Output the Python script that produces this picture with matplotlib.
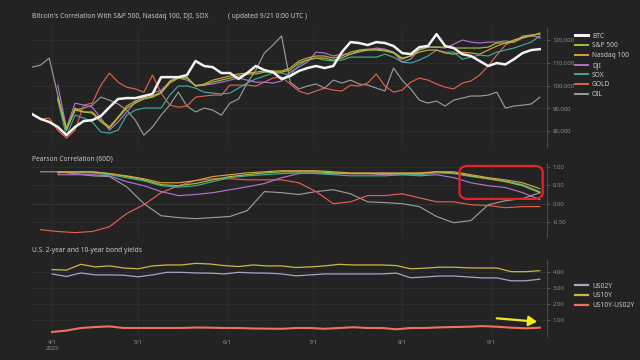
import matplotlib
matplotlib.use("Agg")
import matplotlib.pyplot as plt
import matplotlib.dates as mdates
import matplotlib.ticker as mticker
from matplotlib.patches import FancyBboxPatch
import numpy as np
import pandas as pd

nan = np.nan

# price panel: every 3 days, 3/25 .. 9/18 (BTC scale, thousands USD)
price_dates = pd.date_range("2025-03-25", periods=60, freq="3D")
btc = [87.5, 85.3, 84.0, 81.8, 78.2, 81.8, 84.4, 84.8, 86.6, 90.5,
       94.1, 94.5, 94.5, 95.4, 96.3, 103.7, 103.7, 103.7, 104.6, 110.8,
       108.6, 108.1, 105.5, 105.5, 102.9, 105.5, 108.6, 106.8, 105.9, 102.9,
       104.2, 106.4, 107.7, 108.6, 107.7, 108.6, 114.7, 119.1, 118.7, 117.8,
       119.1, 118.7, 117.4, 114.3, 113.8, 116.9, 117.4, 122.6, 117.4, 116.5,
       113.8, 113.0, 110.8, 108.6, 109.9, 109.3, 111.6, 114.3, 115.6, 116.0]
sp500 = [nan, nan, nan, 94.9, 80.4, 90.1, 88.4, 87.9, 84.0, 81.3,
         85.7, 90.1, 92.3, 94.1, 94.9, 96.7, 101.1, 103.3, 103.3, 99.8,
         100.2, 101.5, 102.4, 103.3, 104.2, 105.1, 105.1, 105.9, 105.9, 105.9,
         106.8, 109.9, 111.2, 112.1, 112.1, 111.2, 112.1, 113.8, 115.2, 115.6,
         115.6, 115.2, 114.3, 111.6, 113.0, 115.6, 116.9, 116.9, 116.9, 116.5,
         116.5, 116.5, 116.5, 116.9, 118.7, 118.7, 120.0, 121.3, 121.8, 123.1]
nasdaq100 = [nan, nan, nan, 94.1, 81.3, 89.2, 88.4, 88.4, 84.8, 81.8,
             86.2, 91.0, 93.2, 94.5, 95.4, 97.1, 102.0, 103.7, 103.7, 99.8,
             100.7, 102.4, 103.3, 104.2, 105.1, 105.5, 105.9, 106.4, 106.4, 106.4,
             107.7, 110.8, 112.1, 113.0, 113.0, 112.1, 113.0, 114.7, 115.6, 116.0,
             116.0, 115.6, 114.7, 112.1, 113.0, 114.7, 115.6, 115.6, 114.3, 113.8,
             114.7, 114.3, 113.8, 115.6, 117.4, 118.7, 119.1, 120.9, 122.2, 122.6]
dji = [nan, nan, nan, 100.2, 81.3, 92.3, 91.4, 90.5, 85.7, 80.4,
       84.0, 88.4, 92.7, 95.4, 96.7, 98.0, 101.5, 103.3, 102.4, 100.2,
       100.2, 100.7, 101.5, 102.4, 103.3, 102.4, 101.5, 101.5, 101.1, 102.0,
       105.9, 108.1, 110.3, 114.7, 114.3, 113.0, 113.8, 113.8, 114.7, 115.6,
       116.5, 116.0, 114.7, 110.3, 111.6, 116.0, 116.9, 116.9, 116.5, 118.2,
       120.0, 119.1, 118.7, 119.1, 119.1, 119.6, 119.1, 121.8, 122.2, 120.9]
sox = [nan, nan, nan, 93.6, 77.8, 87.0, 85.7, 84.0, 79.6, 79.1,
       80.4, 87.0, 89.2, 90.1, 90.1, 90.1, 95.8, 99.8, 99.8, 98.9,
       97.1, 96.7, 96.3, 96.7, 98.9, 101.1, 102.9, 104.2, 105.5, 105.5,
       104.6, 109.0, 111.2, 112.1, 111.2, 110.8, 111.2, 112.5, 112.5, 112.5,
       112.5, 113.8, 112.5, 110.3, 109.9, 111.2, 113.0, 115.6, 114.7, 114.7,
       111.6, 112.5, 113.4, 113.0, 114.7, 115.6, 116.5, 117.8, 119.1, 121.8]
gold = [nan, 85.3, 85.7, 80.4, 76.9, 80.4, 91.4, 92.3, 100.2, 105.5,
        101.5, 99.3, 98.5, 97.1, 104.6, 96.7, 91.4, 90.5, 91.0, 94.9,
        95.4, 95.8, 95.8, 100.2, 100.2, 100.2, 99.8, 101.5, 103.3, 103.7,
        100.7, 97.6, 96.3, 97.6, 98.9, 98.0, 97.6, 100.2, 99.8, 101.1,
        105.1, 99.8, 97.1, 98.0, 101.5, 103.3, 102.4, 100.7, 99.3, 98.5,
        101.1, 102.0, 104.6, 108.6, 113.4, 117.8, 120.0, 120.9, 121.8, 121.3]
oil = [108.1, 109.0, 112.1, 95.8, 80.4, 89.2, 90.1, 91.4, 94.9, 93.6,
       91.9, 89.2, 84.8, 78.2, 81.8, 87.0, 91.4, 97.1, 91.0, 88.4,
       90.1, 89.2, 87.0, 92.3, 94.1, 101.1, 106.8, 114.3, 117.8, 121.8,
       101.5, 98.5, 99.8, 100.7, 98.9, 102.4, 101.1, 102.4, 100.7, 100.2,
       98.9, 97.6, 107.7, 102.4, 98.5, 93.6, 92.3, 93.2, 91.0, 93.6,
       94.5, 95.4, 95.4, 95.8, 97.1, 90.1, 91.0, 91.4, 91.9, 94.9]

# 60-day Pearson correlation: every 6 days, 3/28 .. 9/18
corr_dates = pd.date_range("2025-03-28", periods=30, freq="6D")
corr_sp500 = [nan, 0.87, 0.87, 0.87, 0.82, 0.74, 0.65, 0.52, 0.49, 0.55,
              0.65, 0.74, 0.79, 0.84, 0.87, 0.87, 0.87, 0.84, 0.82, 0.82,
              0.82, 0.82, 0.82, 0.87, 0.84, 0.76, 0.68, 0.60, 0.49, 0.30]
corr_nasdaq = [nan, 0.84, 0.87, 0.87, 0.82, 0.76, 0.68, 0.57, 0.57, 0.63,
               0.74, 0.79, 0.84, 0.87, 0.90, 0.90, 0.90, 0.87, 0.84, 0.84,
               0.84, 0.84, 0.84, 0.87, 0.87, 0.79, 0.71, 0.65, 0.57, 0.41]
corr_dji = [nan, 0.79, 0.79, 0.79, 0.76, 0.60, 0.49, 0.33, 0.22, 0.25,
            0.30, 0.38, 0.46, 0.55, 0.71, 0.82, 0.84, 0.82, 0.82, 0.82,
            0.79, 0.79, 0.76, 0.79, 0.71, 0.57, 0.49, 0.44, 0.30, 0.11]
corr_sox = [nan, 0.87, 0.84, 0.84, 0.79, 0.71, 0.62, 0.49, 0.45, 0.49,
            0.60, 0.71, 0.76, 0.79, 0.82, 0.84, 0.82, 0.79, 0.76, 0.76,
            0.76, 0.79, 0.79, 0.84, 0.82, 0.74, 0.68, 0.62, 0.52, 0.33]
corr_gold = [-0.71, -0.76, -0.79, -0.76, -0.63, -0.27, -0.03, 0.30, 0.49, 0.63,
             0.68, 0.68, 0.65, 0.65, 0.65, 0.57, 0.33, 0.0, 0.05, 0.22,
             0.22, 0.27, 0.16, 0.05, 0.05, -0.03, -0.05, -0.11, -0.08, -0.08]
corr_oil = [0.87, 0.87, 0.82, 0.76, 0.74, 0.46, 0.0, -0.33, -0.38, -0.41,
            -0.38, -0.35, -0.19, 0.33, 0.30, 0.25, 0.33, 0.38, 0.27, 0.05,
            0.03, 0.0, -0.08, -0.35, -0.52, -0.46, -0.03, 0.08, 0.14, 0.30]

# bond yields: every 5 days, 4/1 .. 9/18
yield_dates = pd.date_range("2025-04-01", periods=35, freq="5D")
us02y = [3.88, 3.72, 3.94, 3.82, 3.82, 3.80, 3.70, 3.82, 3.98, 3.98,
         3.94, 3.93, 3.88, 3.98, 3.94, 3.93, 3.88, 3.76, 3.82, 3.88,
         3.88, 3.88, 3.88, 3.88, 3.93, 3.64, 3.69, 3.75, 3.75, 3.69,
         3.63, 3.63, 3.45, 3.45, 3.55]
us10y = [4.15, 4.12, 4.48, 4.32, 4.38, 4.25, 4.20, 4.38, 4.44, 4.44,
         4.54, 4.50, 4.40, 4.34, 4.44, 4.38, 4.38, 4.28, 4.32, 4.38,
         4.48, 4.44, 4.44, 4.44, 4.40, 4.20, 4.24, 4.30, 4.30, 4.26,
         4.25, 4.25, 4.02, 4.02, 4.08]
spread = [0.25, 0.34, 0.50, 0.56, 0.60, 0.50, 0.50, 0.50, 0.50, 0.50,
          0.53, 0.52, 0.50, 0.50, 0.47, 0.46, 0.45, 0.50, 0.50, 0.45,
          0.50, 0.55, 0.50, 0.50, 0.42, 0.50, 0.50, 0.54, 0.56, 0.58,
          0.62, 0.58, 0.52, 0.48, 0.52]

BG = "#232323"
TXT = "#c8c8c8"
TICK = "#8a8a8a"
GRID = "#2e2e2e"

COLORS = {
    "BTC": "#f2f2f2",
    "S&P 500": "#9cc43c",
    "Nasdaq 100": "#d9a040",
    "DJI": "#b072cc",
    "SOX": "#44a89a",
    "GOLD": "#e0604c",
    "OIL": "#9a9a9a",
    "US02Y": "#a8a4c8",
    "US10Y": "#c8b844",
    "US10Y-US02Y": "#f07060",
}

plt.rcParams.update({
    "font.family": ["Noto Sans", "DejaVu Sans"],
    "axes.facecolor": BG,
    "figure.facecolor": BG,
    "text.color": TXT,
})

fig = plt.figure(figsize=(6.4, 3.6), dpi=100)
W, H = 640, 360


def add_ax(top, bottom):
    return fig.add_axes([32 / W, 1 - bottom / H, (547 - 32) / W, (bottom - top) / H])


ax1 = add_ax(28, 147)
ax2 = add_ax(163, 237)
ax3 = add_ax(260, 336)

xmin = pd.Timestamp("2025-03-25")
xmax = pd.Timestamp("2025-09-20 12:00")
months = [pd.Timestamp(f"2025-{m}-01") for m in range(4, 10)]

for ax in (ax1, ax2, ax3):
    ax.set_xlim(xmin, xmax)
    ax.set_xticks(months)
    ax.yaxis.tick_right()
    for side in ("top", "left", "bottom"):
        ax.spines[side].set_visible(False)
    ax.spines["right"].set_color("#555555")
    ax.spines["right"].set_linewidth(0.6)
    ax.grid(True, color=GRID, linewidth=0.6)
    ax.set_axisbelow(True)
    ax.tick_params(axis="y", colors="#666666", labelcolor=TICK, labelsize=4.3,
                   length=2.5, width=0.5, pad=1.5)
    ax.tick_params(axis="x", length=0, labelsize=4.3, labelcolor=TICK, pad=3)

ax1.tick_params(axis="x", labelbottom=False)
ax2.tick_params(axis="x", labelbottom=False)
ax3.set_xticklabels(["4/1\n2025", "5/1", "6/1", "7/1", "8/1", "9/1"])

# price panel
lw_thin = 0.85
ax1.plot(price_dates, oil, color=COLORS["OIL"], lw=lw_thin, label="OIL")
ax1.plot(price_dates, gold, color=COLORS["GOLD"], lw=lw_thin, label="GOLD")
ax1.plot(price_dates, sox, color=COLORS["SOX"], lw=lw_thin, label="SOX")
ax1.plot(price_dates, dji, color=COLORS["DJI"], lw=lw_thin, label="DJI")
ax1.plot(price_dates, nasdaq100, color=COLORS["Nasdaq 100"], lw=lw_thin, label="Nasdaq 100")
ax1.plot(price_dates, sp500, color=COLORS["S&P 500"], lw=lw_thin, label="S&P 500")
ax1.plot(price_dates, btc, color=COLORS["BTC"], lw=1.8, label="BTC")
ax1.set_ylim(73, 125.3)
ax1.set_yticks([80, 90, 100, 110, 120])
ax1.yaxis.set_major_formatter(mticker.FuncFormatter(lambda v, p: f"{v * 1000:,.0f}"))

legend_kw = dict(loc="upper left", frameon=False, fontsize=4.8, labelspacing=0.42,
                 handlelength=1.95, handletextpad=0.6, labelcolor=TXT)

order = ["BTC", "S&P 500", "Nasdaq 100", "DJI", "SOX", "GOLD", "OIL"]
handles, labels = ax1.get_legend_handles_labels()
hmap = dict(zip(labels, handles))
leg1 = fig.legend([hmap[k] for k in order], order,
                  bbox_to_anchor=(569 / W, 1 - 26.5 / H), **legend_kw)
for h, name in zip(leg1.legend_handles, order):
    h.set_linewidth(2.2 if name == "BTC" else 1.4)

# correlation panel
ax2.plot(corr_dates, corr_oil, color=COLORS["OIL"], lw=lw_thin)
ax2.plot(corr_dates, corr_gold, color=COLORS["GOLD"], lw=lw_thin)
ax2.plot(corr_dates, corr_dji, color=COLORS["DJI"], lw=lw_thin)
ax2.plot(corr_dates, corr_sox, color=COLORS["SOX"], lw=lw_thin)
ax2.plot(corr_dates, corr_sp500, color=COLORS["S&P 500"], lw=lw_thin)
ax2.plot(corr_dates, corr_nasdaq, color=COLORS["Nasdaq 100"], lw=lw_thin)
ax2.axhline(0, color="#4a4a4a", lw=0.7, zorder=0.5)
ax2.set_ylim(-0.91, 1.11)
ax2.set_yticks([-0.5, 0, 0.5, 1.0])
ax2.yaxis.set_major_formatter(mticker.FormatStrFormatter("%.2f"))

box_x0 = mdates.date2num(pd.Timestamp("2025-08-21"))
box_x1 = mdates.date2num(pd.Timestamp("2025-09-19"))
box = FancyBboxPatch((box_x0, 0.13), box_x1 - box_x0, 0.9,
                     boxstyle="round,pad=0,rounding_size=3",
                     mutation_aspect=0.06,
                     fill=False, edgecolor="#e8202a", linewidth=1.6, zorder=5,
                     clip_on=False)
ax2.add_patch(box)

# bond panel
ax3.plot(yield_dates, us02y, color=COLORS["US02Y"], lw=0.9, label="US02Y")
ax3.plot(yield_dates, us10y, color=COLORS["US10Y"], lw=0.9, label="US10Y")
ax3.plot(yield_dates, spread, color=COLORS["US10Y-US02Y"], lw=1.5, label="US10Y-US02Y")
ax3.set_ylim(0, 4.75)
ax3.set_yticks([1, 2, 3, 4])
ax3.yaxis.set_major_formatter(mticker.FormatStrFormatter("%.2f"))
leg3 = fig.legend(*ax3.get_legend_handles_labels(),
                  bbox_to_anchor=(569 / W, 1 - 276.5 / H), **legend_kw)
for h in leg3.legend_handles:
    h.set_linewidth(1.6)

ax3.annotate("", xy=(pd.Timestamp("2025-09-18"), 0.88),
             xytext=(pd.Timestamp("2025-09-02"), 1.12),
             arrowprops=dict(arrowstyle="-|>,head_length=0.5,head_width=0.3",
                             color="#f2e81e", lw=1.6))

# titles
fig.text(32 / W, 1 - 16 / H, "Bitcoin's Correlation With S&P 500, Nasdaq 100, DJI, SOX",
         fontsize=4.8, color=TXT, va="center")
fig.text(228 / W, 1 - 16 / H, "( updated 9/21 0:00 UTC )",
         fontsize=4.8, color=TXT, va="center")
fig.text(32 / W, 1 - 159 / H, "Pearson Correlation (60D)",
         fontsize=4.8, color=TXT, va="center")
fig.text(32 / W, 1 - 250 / H, "U.S. 2-year and 10-year bond yields",
         fontsize=4.8, color=TXT, va="center")

fig.savefig("out.png", dpi=100, facecolor=BG)
